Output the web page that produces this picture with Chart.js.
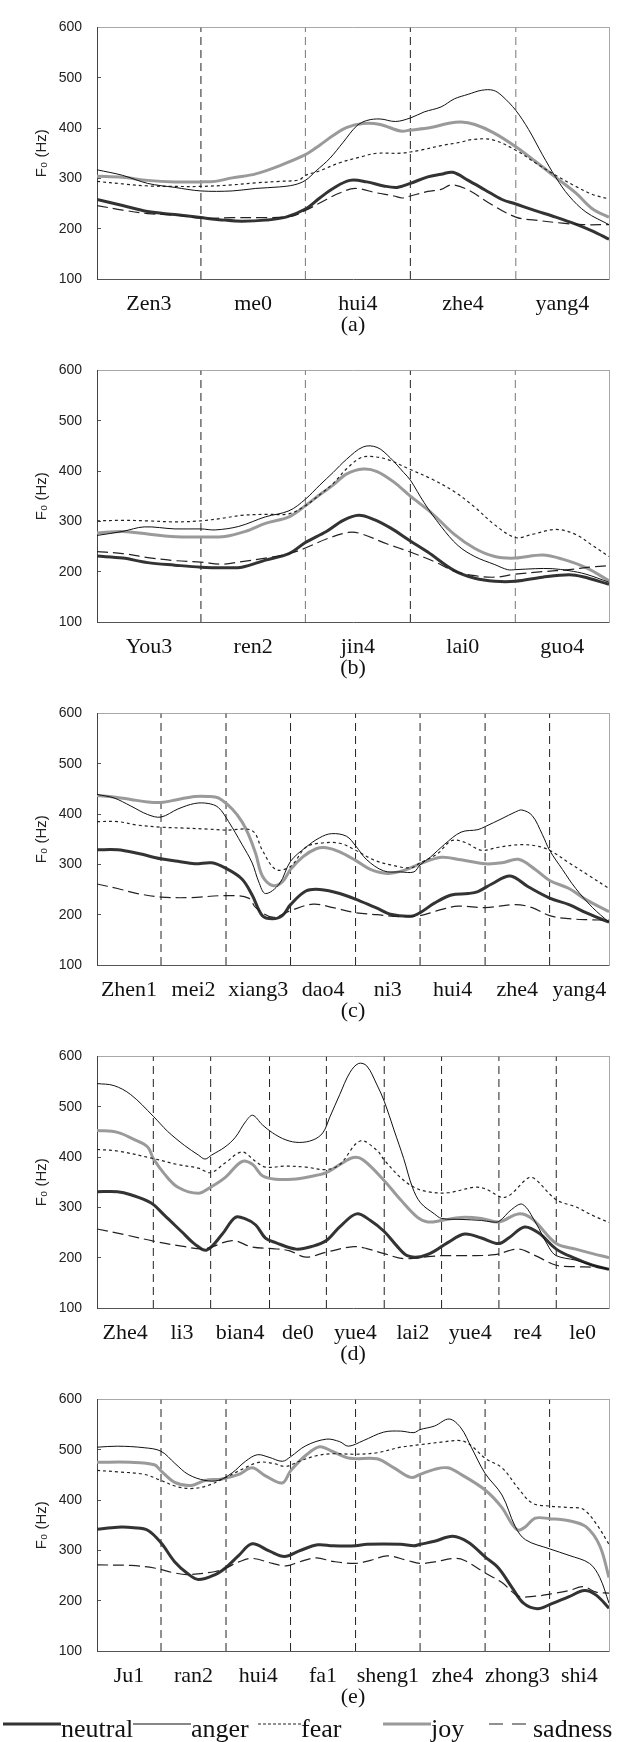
<!DOCTYPE html>
<html>
<head>
<meta charset="utf-8">
<script src="https://cdn.jsdelivr.net/npm/chart.js@4.4.0/dist/chart.umd.min.js"></script>
<style>
  html, body { margin: 0; padding: 0; background: #fff; }
  #wrap { position: relative; width: 634px; height: 1742px; overflow: hidden; }
  #wrap canvas { position: absolute; left: 0; }
  #legend { position: absolute; left: 0; top: 1712px; }
</style>
</head>
<body>
<div id="wrap">
  <canvas id="pa" width="634" height="343" style="top:0px"></canvas>
  <canvas id="pb" width="634" height="343" style="top:343px"></canvas>
  <canvas id="pc" width="634" height="343" style="top:686px"></canvas>
  <canvas id="pd" width="634" height="343" style="top:1029px"></canvas>
  <canvas id="pe" width="634" height="343" style="top:1372px"></canvas>
  <svg id="legend" width="634" height="30"></svg>
</div>
<script>
// time is % of utterance duration, F0 in Hz -- [t, hz]

// (a) Zen3 me0 hui4 zhe4 yang4
const aSyllables = ['Zen3', 'me0', 'hui4', 'zhe4', 'yang4'];
const aBounds = [20.3, 40.7, 61.2, 81.8];
const aNeutral = [[0,258],[5,246],[9.9,234],[15.2,228],[20.3,222],[25,217],[28.3,215],[32.9,217],[36.9,223],[40.7,239],[43.5,261],[46.1,280],[49.4,296],[52.7,293],[56,285],[58.6,282],[61.2,290],[64.6,303],[67.2,308],[69.5,312],[72.5,296],[75.8,277],[79.1,258],[81.8,249],[85.6,236],[89.6,223],[93.5,209],[96.8,195],[100,179]];
const aAnger = [[0,317],[5,306],[9.9,290],[15.2,282],[20.3,275],[26.4,275],[31,280],[35.6,283],[38.5,287],[40.7,296],[42.8,315],[45.5,340],[48.1,372],[50.7,404],[52.7,415],[55.3,418],[58.3,413],[61.2,420],[63.9,432],[67.2,442],[69.8,458],[72.5,467],[75.1,475],[77.4,475],[79.1,464],[81.8,435],[84.3,397],[87,347],[89.6,302],[92.2,265],[95.5,233],[100,208]];
const aFear = [[0,294],[5,289],[9.9,285],[15.2,284],[20.3,284],[26.4,287],[31,291],[35.6,294],[39.5,297],[40.7,306],[43.5,315],[47.4,331],[52,344],[54.7,350],[59.3,350],[63.2,356],[67.2,365],[71.1,372],[73.1,377],[77.1,377],[81.8,356],[85.6,331],[89.6,306],[93.5,284],[96.8,268],[100,259]];
const aJoy = [[0,304],[5,302],[9.9,296],[15.2,293],[20.3,293],[23.1,294],[26.4,301],[31,309],[35.6,325],[40.7,347],[43.5,366],[46.1,385],[48.7,401],[52,409],[55.3,407],[59.3,394],[61.2,396],[65.2,401],[68.5,409],[71.1,412],[73.8,407],[77.4,391],[81.8,363],[85.6,334],[89.6,302],[93.5,271],[96.8,239],[100,223]];
const aSadness = [[0,246],[5,237],[9.9,230],[15.2,227],[20.3,221],[26.4,222],[32.9,222],[38.2,225],[40.7,236],[44.8,258],[47.4,271],[50.4,280],[54.7,271],[58,265],[59.6,261],[61.2,265],[64.6,274],[67.2,278],[69.2,287],[72.5,277],[76.4,252],[81.8,223],[85.6,217],[90.9,211],[94.9,208],[100,208]];

// (b) You3 ren2 jin4 lai0 guo4
const bSyllables = ['You3', 'ren2', 'jin4', 'lai0', 'guo4'];
const bBounds = [20.3, 40.7, 61.2, 81.7];
const bNeutral = [[0,231],[5,227],[9.9,218],[15.2,213],[20.3,209],[25,208],[28.3,209],[32.9,223],[37.5,236],[40.7,258],[44.8,280],[48.1,302],[51.1,312],[54,304],[57.3,287],[61.2,261],[64.6,239],[69.8,202],[73.8,187],[77.7,181],[81.7,181],[87,189],[92.2,194],[94.9,190],[100,175]];
const bAnger = [[0,272],[5,280],[9.2,289],[15.2,285],[20.3,285],[23.1,283],[27.7,290],[32.9,309],[37.5,321],[40.7,344],[43.5,372],[46.1,397],[48.7,423],[52,448],[54.7,447],[57.3,426],[59.9,397],[61.2,382],[63.9,337],[67.2,290],[70.5,252],[73.8,230],[77.7,214],[80.2,204],[81.7,204],[85.6,206],[88.9,206],[92.2,202],[95.5,195],[100,179]];
const bFear = [[0,301],[5,302],[9.9,301],[15.2,299],[20.3,301],[24.4,306],[28.3,312],[32.9,314],[37.5,315],[40.7,331],[43.5,353],[46.1,375],[48.7,404],[51.4,426],[53.4,429],[56.7,423],[61.2,403],[65.2,385],[69.8,359],[73.8,328],[77.7,293],[81.7,268],[85,274],[89.6,284],[93.5,274],[96.8,252],[100,230]];
const bJoy = [[0,277],[5,280],[9.9,275],[14.5,270],[20.3,269],[25,270],[29,280],[32.9,296],[37.5,309],[40.7,331],[43.5,353],[46.1,372],[48.7,394],[52,404],[54.7,399],[58,378],[61.2,350],[65.2,318],[69.8,274],[73.8,246],[77.7,230],[81.7,227],[87,233],[90.9,225],[95.5,208],[100,182]];
const bSadness = [[0,240],[5,236],[9.9,228],[15.2,222],[20.3,219],[24.4,215],[28.3,220],[32.9,227],[37.5,236],[40.7,247],[44.8,265],[49.1,278],[51.4,276],[56.7,255],[61.2,239],[65.9,220],[69.8,201],[73.8,192],[77.7,189],[81.7,195],[87,200],[92.2,204],[96.2,209],[100,212]];

// (c) Zhen1 mei2 xiang3 dao4 ni3 hui4 zhe4 yang4
const cSyllables = ['Zhen1', 'mei2', 'xiang3', 'dao4', 'ni3', 'hui4', 'zhe4', 'yang4'];
const cBounds = [12.5, 25.2, 37.8, 50.5, 63.1, 75.8, 88.4];
const cNeutral = [[0,329],[4,329],[7.9,322],[12.5,311],[15.8,306],[19.1,301],[22.4,303],[25,293],[28.3,271],[30.3,239],[32.3,198],[34.3,192],[36.2,198],[37.8,220],[40.8,247],[43.5,250],[47.4,242],[51.4,227],[54.7,213],[57.3,201],[61.3,197],[63.1,204],[65.9,223],[69.2,239],[72.5,242],[74.4,246],[77.1,261],[80.7,277],[84.3,255],[88.4,233],[92.2,220],[95.5,204],[100,185]];
const cAnger = [[0,439],[3.3,432],[6.6,416],[9.9,399],[12.5,394],[15.8,410],[19.1,421],[21.7,421],[23.7,413],[25.7,385],[28.3,340],[30.3,303],[31.6,265],[32.9,242],[35.6,261],[37.8,306],[40.8,334],[43.5,353],[45.8,361],[48.7,356],[50.5,337],[52.7,309],[56,287],[59.3,285],[61.9,285],[63.1,299],[65.2,315],[67.9,340],[71.1,364],[74.4,369],[75.8,375],[79.1,391],[81.7,404],[83,408],[85,397],[87,359],[88.4,328],[90.9,290],[93.5,252],[96.8,214],[100,185]];
const cFear = [[0,385],[4,385],[7.9,378],[12.5,374],[17.1,372],[21.7,370],[25.2,368],[30.3,367],[32.3,328],[34.9,290],[37.8,296],[40.8,334],[43.5,342],[47.4,342],[50.5,328],[54,309],[57.3,299],[61.3,293],[63.1,303],[66.5,321],[69.2,347],[71.8,344],[75.1,328],[78.4,334],[82.3,339],[85.6,337],[88.4,328],[92.2,303],[96.2,277],[100,252]];
const cJoy = [[0,437],[3.3,434],[6.6,429],[9.9,424],[12.5,423],[15.8,429],[19.1,435],[21.7,435],[23.7,432],[26.4,410],[28.3,385],[29.6,359],[31,321],[32.3,277],[34.3,258],[36.2,265],[37.8,290],[40.2,315],[42.8,331],[44.8,333],[47.4,325],[50.5,308],[53.4,290],[56.7,282],[59.9,288],[63.1,301],[67.2,314],[71.1,309],[75.8,301],[79.1,303],[82.3,310],[85.6,290],[88.4,268],[92.2,252],[95.5,230],[100,206]];
const cSadness = [[0,261],[4,252],[7.9,242],[12.5,235],[18.4,234],[25.2,238],[29.6,233],[31,214],[34.3,195],[37.8,208],[42.2,221],[46.1,214],[50.5,204],[54.7,200],[59.3,196],[63.1,198],[66.5,208],[70.5,217],[75.8,214],[81.7,220],[85,214],[88.4,198],[92.2,192],[96.2,190],[100,189]];

// (d) Zhe4 li3 bian4 de0 yue4 lai2 yue4 re4 le0
const dSyllables = ['Zhe4', 'li3', 'bian4', 'de0', 'yue4', 'lai2', 'yue4', 're4', 'le0'];
const dBounds = [11.0, 22.2, 33.7, 44.8, 56.1, 67.3, 78.5, 89.7];
const dNeutral = [[0,331],[4,331],[6.6,325],[10.5,309],[13.2,284],[16.5,252],[19.1,227],[21.4,215],[24.4,246],[27,280],[29,277],[31,265],[32.9,239],[34.9,230],[38.9,217],[42.2,223],[44.8,234],[47.4,261],[50.7,287],[53.4,274],[56.1,252],[58.6,223],[60.6,204],[63.2,202],[65.9,213],[68.5,230],[71.8,247],[75.1,239],[78.4,228],[80.4,239],[83.5,261],[86.3,249],[89.7,217],[93.5,198],[96.8,185],[100,177]];
const dAnger = [[0,546],[3.3,542],[6.6,524],[11,481],[13.8,451],[17.1,423],[19.8,404],[21.1,396],[22.4,404],[25,420],[27,439],[29,470],[30.4,483],[32.3,464],[34.3,448],[36.9,434],[39.5,429],[42.2,434],[44.1,448],[45.5,480],[47.4,524],[49.4,568],[51.1,586],[52.7,581],[54.7,543],[56.1,511],[58,454],[59.9,397],[61.6,340],[63.2,309],[65.9,287],[67.3,278],[71.1,276],[75.1,274],[77.1,271],[78.5,272],[81,296],[83.1,306],[85.6,271],[88.3,220],[89.7,204],[93.5,195],[96.8,185],[100,177]];
const dFear = [[0,415],[4,412],[11,397],[15.8,385],[19.8,378],[22.2,369],[25,388],[28.3,410],[31,391],[32.9,380],[36.9,382],[40.8,380],[44.8,375],[47.4,385],[51.4,432],[54.7,413],[56.1,394],[59.3,359],[61.9,340],[64.6,331],[68.5,329],[73.8,340],[75.8,337],[79.7,320],[84.3,359],[85.6,356],[89.7,315],[93.5,301],[96.8,284],[100,270]];
const dJoy = [[0,453],[4,449],[7.2,435],[9.9,420],[11,397],[13.2,366],[15.8,340],[19.8,328],[22.2,340],[25,359],[28.3,391],[30.4,385],[32.3,363],[34.9,356],[38.2,356],[41.5,361],[44.8,369],[47.4,385],[50.1,399],[52,394],[56.1,353],[59.3,315],[62.6,280],[64.6,271],[67.3,274],[71.1,280],[75.1,278],[78.5,271],[82.3,287],[85,277],[89.7,228],[93.5,217],[96.8,208],[100,200]];
const dSadness = [[0,257],[5.3,246],[11,233],[16.5,223],[21.1,218],[26.4,234],[30.3,221],[34.3,218],[37.5,214],[40.8,201],[44.8,211],[50.1,222],[52.7,218],[56.1,208],[59.9,198],[64.6,202],[67.3,204],[72.5,204],[77.7,206],[82.3,217],[85.6,204],[89.7,185],[93.5,182],[96.8,181],[100,178]];

// (e) Ju1 ran2 hui4 fa1 sheng1 zhe4 zhong3 shi4
const eSyllables = ['Ju1', 'ran2', 'hui4', 'fa1', 'sheng1', 'zhe4', 'zhong3', 'shi4'];
const eBounds = [12.5, 25.2, 37.8, 50.5, 63.1, 75.8, 88.4];
const eNeutral = [[0,342],[4,346],[7.2,345],[9.9,340],[12.5,315],[15.2,277],[17.8,253],[19.8,242],[23.1,252],[25.2,266],[27.7,290],[30.3,313],[33.6,299],[36.6,288],[39.5,299],[43.1,311],[46.1,309],[50.5,309],[52.7,312],[59.3,312],[61.9,309],[63.1,312],[65.9,318],[69.5,328],[72.5,316],[75.8,287],[78.4,265],[81,227],[83.3,195],[86,184],[88.4,192],[92.2,208],[95.2,220],[97.5,211],[100,185]];
const eAnger = [[0,505],[4,507],[9.2,504],[12.5,497],[15.2,473],[17.8,451],[21.1,439],[23.7,439],[26.4,454],[29,477],[31.3,490],[33.6,485],[36.2,477],[37.8,486],[40.8,508],[44.8,521],[47.4,516],[49.1,507],[52,518],[56,535],[59.3,537],[61.9,534],[63.1,540],[65.9,547],[68.8,561],[71.1,543],[73.1,505],[75.8,453],[79.1,410],[81.7,347],[83.7,321],[88.4,303],[92.2,290],[96.2,274],[98.2,246],[100,195]];
const eFear = [[0,459],[4,456],[9.2,451],[12.5,439],[15.8,426],[18.8,423],[21.7,429],[25.2,445],[28.3,461],[31.6,475],[34.3,473],[36.9,467],[39.5,477],[42.8,488],[46.1,492],[50.5,491],[54.7,494],[59.3,505],[63.1,510],[67.2,515],[71.1,518],[73.1,508],[75.8,483],[79.1,464],[82.3,423],[85,394],[88.4,388],[92.2,385],[94.9,382],[97.5,353],[100,312]];
const eJoy = [[0,475],[6.6,475],[11.2,470],[12.5,458],[15.2,435],[18.4,429],[21.1,439],[24.4,442],[27.7,451],[30.3,464],[32.9,448],[36.2,434],[37.8,458],[40.8,489],[43.5,506],[46.1,496],[49.4,483],[54.7,482],[58,464],[61.3,445],[63.1,451],[65.9,461],[68.5,464],[71.1,451],[75.8,420],[79.1,385],[81,353],[82.3,340],[83.7,347],[85.6,364],[88.4,363],[92.2,359],[95.5,347],[98.2,309],[100,246]];
const eSadness = [[0,271],[6.6,270],[11.2,265],[15.2,255],[17.8,252],[23.1,258],[25.2,265],[27.7,277],[30.3,284],[34.3,274],[36.9,269],[39.5,277],[42.8,285],[46.1,278],[50.5,274],[53.4,280],[56.7,289],[60.6,280],[63.1,274],[65.9,277],[69.8,284],[71.8,280],[75.8,255],[79.1,236],[82.3,209],[85.6,209],[88.4,213],[92.2,220],[94.9,228],[97.5,217],[100,215]];

const emotions = ['neutral', 'anger', 'fear', 'joy', 'sadness'];
const yTicks = [100, 200, 300, 400, 500, 600];

const SERIF = "'Liberation Serif', 'Times New Roman', serif";
const SANS = "'Liberation Sans', Arial, sans-serif";

// line look per emotion (order: lower = drawn on top)
const looks = {
  neutral: { borderColor: '#333', borderWidth: 3, borderDash: [], order: 4 },
  anger:   { borderColor: '#111', borderWidth: 1, borderDash: [], order: 1 },
  fear:    { borderColor: '#222', borderWidth: 1.2, borderDash: [3, 3], order: 2 },
  joy:     { borderColor: '#9a9a9a', borderWidth: 3, borderDash: [], order: 5 },
  sadness: { borderColor: '#222', borderWidth: 1.2, borderDash: [11, 5], order: 3 }
};

function makePanel(id, letter, syllables, bounds, curves) {
  const edges = [0].concat(bounds, [100]);
  const centers = syllables.map((s, i) => (edges[i] + edges[i + 1]) / 2);

  const sepSets = bounds.map((b, i) => ({
    data: [{ x: b, y: 100 }, { x: b, y: 600 }],
    borderColor: (letter === 'a' || letter === 'b') && i % 2 === 1 ? '#777' : '#222',
    borderWidth: 1,
    borderDash: [8, 5],
    pointRadius: 0,
    tension: 0,
    order: 10
  }));

  const lineSets = emotions.map((name, k) => Object.assign({
    label: name,
    data: curves[k].map(p => ({ x: p[0], y: p[1] })),
    pointRadius: 0,
    tension: 0.35,
    fill: false
  }, looks[name]));

  new Chart(document.getElementById(id), {
    type: 'line',
    data: { datasets: sepSets.concat(lineSets) },
    options: {
      responsive: false,
      animation: false,
      devicePixelRatio: 1,
      layout: { padding: { left: 0, right: 25, top: 16, bottom: 0 } },
      plugins: { legend: { display: false }, tooltip: { enabled: false } },
      scales: {
        x: {
          type: 'linear', position: 'bottom', min: 0, max: 100,
          afterBuildTicks: s => { s.ticks = centers.map(v => ({ value: v })); },
          afterFit: s => { s.height = 64; },
          grid: { display: false },
          border: { display: true, color: '#555', width: 1 },
          ticks: {
            autoSkip: false, maxRotation: 0, minRotation: 0, padding: 4,
            color: '#111', font: { family: SERIF, size: 22 },
            callback: (v, i) => syllables[i]
          },
          title: {
            display: true, text: '(' + letter + ')', color: '#111',
            font: { family: SERIF, size: 22 }, padding: { top: 0, bottom: 5 }
          }
        },
        xTop: {
          type: 'linear', position: 'top', min: 0, max: 100,
          afterFit: s => { s.height = 0; },
          grid: { display: false }, ticks: { display: false },
          border: { display: true, color: '#a8a8a8', width: 1 }
        },
        y: {
          type: 'linear', position: 'left', min: 100, max: 600,
          afterBuildTicks: s => { s.ticks = yTicks.map(v => ({ value: v })); },
          afterFit: s => { s.width = 97; },
          grid: { drawOnChartArea: false, drawTicks: true, tickLength: -4, tickColor: '#555', tickWidth: 1 },
          border: { display: true, color: '#444', width: 1 },
          ticks: { padding: 19, color: '#222', font: { family: SANS, size: 14 } },
          title: {
            display: true, text: 'F\u2080 (Hz)', color: '#222',
            font: { family: SANS, size: 15 }, padding: { top: 33, bottom: 0 }
          }
        },
        yRight: {
          type: 'linear', position: 'right', min: 100, max: 600,
          afterFit: s => { s.width = 0; },
          grid: { display: false }, ticks: { display: false },
          border: { display: true, color: '#a8a8a8', width: 1 }
        }
      }
    }
  });
}

makePanel('pa', 'a', aSyllables, aBounds, [aNeutral, aAnger, aFear, aJoy, aSadness]);
makePanel('pb', 'b', bSyllables, bBounds, [bNeutral, bAnger, bFear, bJoy, bSadness]);
makePanel('pc', 'c', cSyllables, cBounds, [cNeutral, cAnger, cFear, cJoy, cSadness]);
makePanel('pd', 'd', dSyllables, dBounds, [dNeutral, dAnger, dFear, dJoy, dSadness]);
makePanel('pe', 'e', eSyllables, eBounds, [eNeutral, eAnger, eFear, eJoy, eSadness]);

// legend row under panel (e)
const legendSpots = [[3, 61], [133, 191], [258, 301], [383, 431], [489, 533]];
const legendDash = { fear: '3 2', sadness: '14 9' };
const svg = document.getElementById('legend');
const NS = 'http://www.w3.org/2000/svg';
emotions.forEach((name, i) => {
  const lk = looks[name];
  const ln = document.createElementNS(NS, 'line');
  ln.setAttribute('x1', legendSpots[i][0]);
  ln.setAttribute('x2', legendSpots[i][1]);
  ln.setAttribute('y1', 12);
  ln.setAttribute('y2', 12);
  ln.setAttribute('stroke', lk.borderColor);
  ln.setAttribute('stroke-width', lk.borderWidth);
  if (legendDash[name]) ln.setAttribute('stroke-dasharray', legendDash[name]);
  svg.appendChild(ln);
  const tx = document.createElementNS(NS, 'text');
  tx.setAttribute('x', legendSpots[i][1]);
  tx.setAttribute('y', 25);
  tx.setAttribute('font-family', SERIF.replace(/'/g, ''));
  tx.setAttribute('font-size', 26);
  tx.setAttribute('fill', '#111');
  tx.textContent = name;
  svg.appendChild(tx);
});
</script>
</body>
</html>
